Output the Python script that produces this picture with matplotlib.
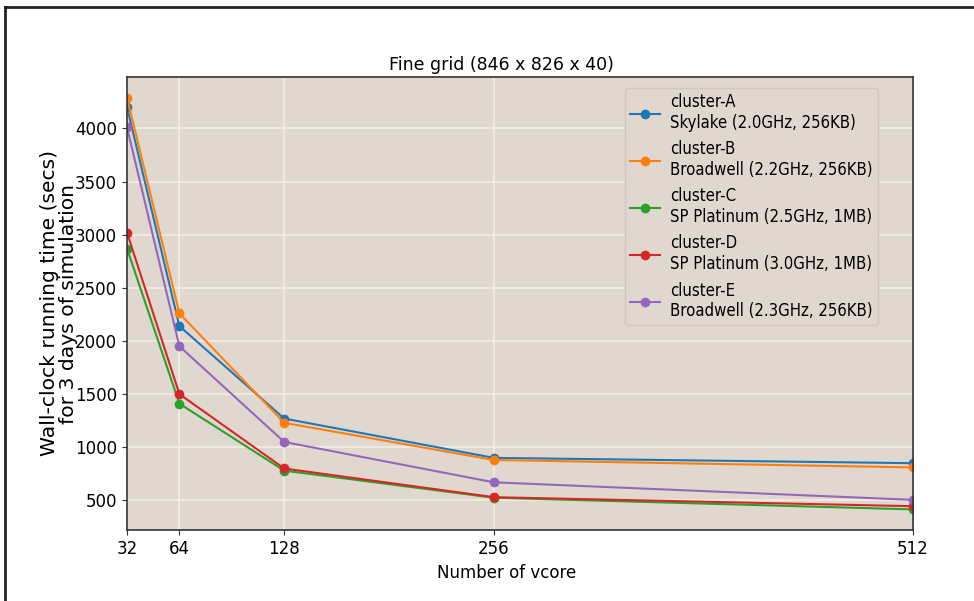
import matplotlib
matplotlib.use("Agg")
import matplotlib.pyplot as plt
from matplotlib.lines import Line2D
from matplotlib.font_manager import FontProperties

vcores = [32, 64, 128, 256, 512]
labels = [
    "cluster-A\nSkylake (2.0GHz, 256KB)",
    "cluster-B\nBroadwell (2.2GHz, 256KB)",
    "cluster-C\nSP Platinum (2.5GHz, 1MB)",
    "cluster-D\nSP Platinum (3.0GHz, 1MB)",
    "cluster-E\nBroadwell (2.3GHz, 256KB)",
]
cluster_a = [4200, 2140, 1270, 900, 850]
cluster_b = [4290, 2260, 1230, 880, 810]
cluster_c = [2870, 1410, 780, 525, 415]
cluster_d = [3020, 1500, 800, 530, 445]
cluster_e = [4010, 1950, 1050, 670, 505]
series = [cluster_a, cluster_b, cluster_c, cluster_d, cluster_e]
colors = ["#1f77b4", "#ff7f0e", "#2ca02c", "#d62728", "#9467bd"]
yticks = [500, 1000, 1500, 2000, 2500, 3000, 3500, 4000]

fig = plt.figure(figsize=(9.74, 6.01), dpi=100)
ax = fig.add_axes([127/974, 1-530/601, (913-127)/974, (530-77)/601])
ax.set_facecolor("#e0d8cf")
ax.grid(True, color="#f4ede6", linewidth=1.2)
ax.set_axisbelow(True)

for s, lab, c in zip(series, labels, colors):
    ax.plot(vcores, s, marker="o", markersize=6, linewidth=1.5, color=c, label=lab)

ax.set_xlim(32, 512)
ax.set_xticks(vcores)
ax.set_xticklabels([str(v) for v in vcores])
ax.set_yticks(yticks)
ax.tick_params(labelsize=12, color="#333333")
for sp in ax.spines.values():
    sp.set_color("#333333")
    sp.set_linewidth(1.2)

fig.text(501/974, 1-65/601, "Fine grid (846 x 826 x 40)", fontsize=12.5, ha="center", va="center")
ax.set_xlabel("Number of vcore", fontsize=12)
ax.xaxis.set_label_coords((507-127)/(913-127), -0.075)
ylab_fp = FontProperties(family="DejaVu Sans", size=14.6)
ax.set_ylabel("Wall-clock running time (secs)\nfor 3 days of simulation", fontproperties=ylab_fp, linespacing=1.02)
ax.yaxis.set_label_coords(-(127-78)/(913-127), 0.5)

fp = FontProperties(family="DejaVu Sans", stretch="condensed", size=12)
leg = ax.legend(loc="upper right", prop=fp, facecolor="#e0d8cf", edgecolor="#d0c8bf",
                framealpha=1, borderaxespad=0, labelspacing=0.5, handlelength=1.8,
                handletextpad=0.6, borderpad=0.3,
                bbox_to_anchor=(878/974, 1-88/601), bbox_transform=fig.transFigure)

fig.add_artist(Line2D([5/974, 1.0], [1-7/601, 1-7/601], transform=fig.transFigure, color="#222222", linewidth=2))
fig.add_artist(Line2D([5/974, 5/974], [0, 1-7/601], transform=fig.transFigure, color="#222222", linewidth=2))

fig.savefig("out.png", dpi=100)
